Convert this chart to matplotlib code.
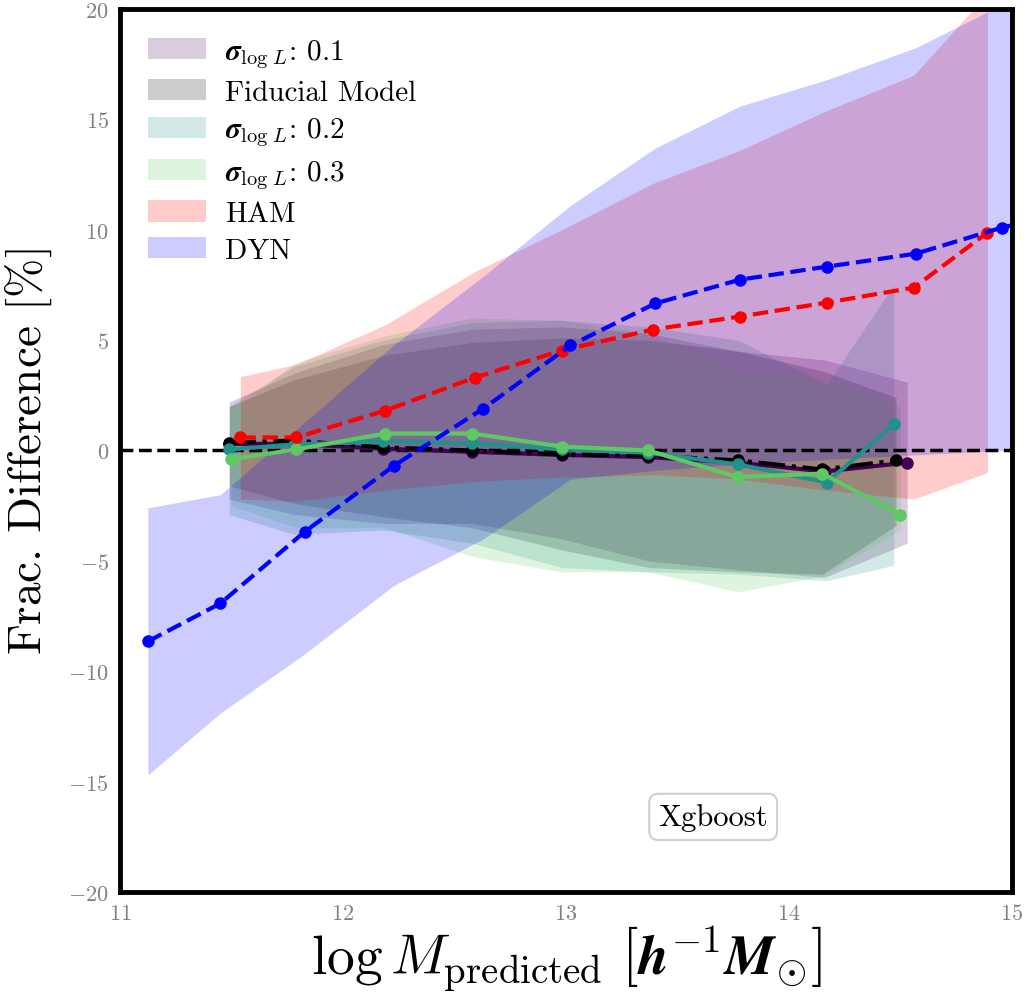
import matplotlib
matplotlib.use("Agg")
import matplotlib.pyplot as plt
import numpy as np

plt.rcParams['font.family'] = 'serif'
plt.rcParams['font.serif'] = ['cmr10', 'DejaVu Serif']
plt.rcParams['mathtext.fontset'] = 'cm'
plt.rcParams['axes.formatter.use_mathtext'] = True
plt.rcParams['axes.unicode_minus'] = True

# ---------------- data ----------------
# Fiducial model
fid_x = [11.49, 11.78, 12.18, 12.58, 12.98, 13.37, 13.77, 14.15, 14.48]
fid_y = [0.36, 0.45, 0.14, 0.0, -0.18, -0.23, -0.45, -0.86, -0.45]
fid_hi = [2.0, 3.2, 4.3, 4.9, 5.1, 5.0, 4.5, 3.6, 2.4]
fid_lo = [-1.6, -2.4, -3.0, -3.5, -4.5, -5.3, -5.5, -5.6, -3.4]

# sigma_logL = 0.1
s1_x = [11.49, 11.78, 12.18, 12.58, 12.98, 13.37, 13.77, 14.16, 14.53]
s1_y = [0.3, 0.3, 0.08, -0.06, -0.2, -0.3, -0.55, -0.95, -0.55]
s1_hi = [2.2, 3.5, 4.8, 5.5, 5.6, 5.3, 4.5, 4.1, 3.1]
s1_lo = [-2.2, -2.9, -3.3, -3.3, -4.0, -5.0, -5.4, -5.75, -4.2]

# sigma_logL = 0.2
s2_x = [11.49, 11.78, 12.18, 12.58, 12.98, 13.37, 13.77, 14.17, 14.47]
s2_y = [0.05, 0.27, 0.41, 0.32, 0.05, -0.1, -0.63, -1.45, 1.18]
s2_hi = [2.0, 3.8, 5.0, 5.8, 5.9, 5.6, 5.0, 3.0, 7.5]
s2_lo = [-2.9, -3.8, -3.6, -4.2, -5.3, -5.5, -5.6, -5.9, -5.2]

# sigma_logL = 0.3
s3_x = [11.50, 11.79, 12.19, 12.58, 12.98, 13.37, 13.77, 14.15, 14.50]
s3_y = [-0.4, 0.05, 0.77, 0.77, 0.18, 0.0, -1.2, -1.05, -2.9]
s3_hi = [1.8, 4.0, 5.2, 6.0, 5.9, 5.3, 3.6, 3.2, 2.0]
s3_lo = [-2.5, -3.5, -3.5, -4.8, -5.5, -5.5, -6.4, -5.7, -3.6]

# HAM
ham_x = [11.54, 11.79, 12.19, 12.59, 12.98, 13.39, 13.78, 14.17, 14.56, 14.89]
ham_y = [0.59, 0.59, 1.81, 3.3, 4.53, 5.48, 6.07, 6.7, 7.38, 9.87]
ham_hi = [3.35, 3.9, 5.7, 8.1, 10.0, 12.1, 13.6, 15.4, 17.0, 20.7]
ham_lo = [-2.2, -2.3, -1.8, -1.4, -1.2, -1.1, -1.3, -1.8, -2.2, -1.0]

# DYN
dyn_x = [11.125, 11.45, 11.83, 12.23, 12.63, 13.02, 13.40, 13.78, 14.17, 14.57, 14.955, 15.30]
dyn_y = [-8.65, -6.93, -3.67, -0.68, 1.9, 4.76, 6.66, 7.74, 8.33, 8.92, 10.1, 10.9]
dyn_hi = [-2.6, -2.0, 1.3, 4.8, 7.9, 11.1, 13.7, 15.6, 16.8, 18.25, 20.2, 21.0]
dyn_lo = [-14.7, -11.9, -9.2, -6.1, -4.0, -1.3, -0.9, -0.6, -0.4, -0.2, 0.0, 0.2]

labels = [r"$\boldsymbol{\sigma}_{\log\,L}$: 0.1", "Fiducial Model",
          r"$\boldsymbol{\sigma}_{\log\,L}$: 0.2", r"$\boldsymbol{\sigma}_{\log\,L}$: 0.3",
          "HAM", "DYN"]

c_s1 = '#440154'
c_s2 = '#21918c'
c_s3 = '#5ec962'

fig = plt.figure(figsize=(10.28, 10.04), dpi=100)
ax = fig.add_axes([0.1167, 0.1106, 0.8677, 0.8794])

ax.fill_between(s1_x, s1_lo, s1_hi, color=c_s1, alpha=0.2, lw=0, label=labels[0])
ax.fill_between(fid_x, fid_lo, fid_hi, color='black', alpha=0.2, lw=0, label=labels[1])
ax.fill_between(s2_x, s2_lo, s2_hi, color=c_s2, alpha=0.2, lw=0, label=labels[2])
ax.fill_between(s3_x, s3_lo, s3_hi, color=c_s3, alpha=0.2, lw=0, label=labels[3])
ax.fill_between(ham_x, ham_lo, ham_hi, color='red', alpha=0.2, lw=0, label=labels[4])
ax.fill_between(dyn_x, dyn_lo, dyn_hi, color='blue', alpha=0.2, lw=0, label=labels[5])

ax.plot(s1_x, s1_y, '-o', color=c_s1, lw=3, ms=8)
ax.plot(fid_x, fid_y, '-.o', color='black', lw=3, ms=8)
ax.plot(s2_x, s2_y, '-o', color=c_s2, lw=3, ms=8)
ax.plot(s3_x, s3_y, '-o', color=c_s3, lw=3, ms=8)
ax.plot(ham_x, ham_y, '--o', color='red', lw=3, ms=8)
ax.plot(dyn_x, dyn_y, '--o', color='blue', lw=3, ms=8)

ax.axhline(0, color='black', ls='--', lw=2.5, zorder=1)

ax.set_xlim(11, 15)
ax.set_ylim(-20, 20)
ax.set_xticks([11, 12, 13, 14, 15])
ax.set_yticks([-20, -15, -10, -5, 0, 5, 10, 15, 20])
ax.tick_params(axis='both', length=0, labelsize=16, labelcolor='#808080', pad=8)
for s in ax.spines.values():
    s.set_linewidth(3.5)
    s.set_color('black')

ax.set_xlabel(r"$\log M_{\rm predicted}\ \left[\boldsymbol{h}^{\mathbf{-1}}\boldsymbol{M}_{\boldsymbol{\odot}}\right]$",
              fontsize=40, labelpad=0)
ax.set_ylabel(r"Frac. Difference $[\%]$", fontsize=34, labelpad=10)

leg = ax.legend(loc='upper left', frameon=False, fontsize=21, handlelength=2.0,
                handleheight=0.75, labelspacing=0.33, borderaxespad=0.55,
                handletextpad=0.65)

ax.text(0.665, 0.085, "Xgboost", transform=ax.transAxes, fontsize=22,
        ha='center', va='center',
        bbox=dict(boxstyle='round,pad=0.3', fc='white', ec='#d0d0d0', lw=1.5))

fig.savefig('out.png', dpi=100)
